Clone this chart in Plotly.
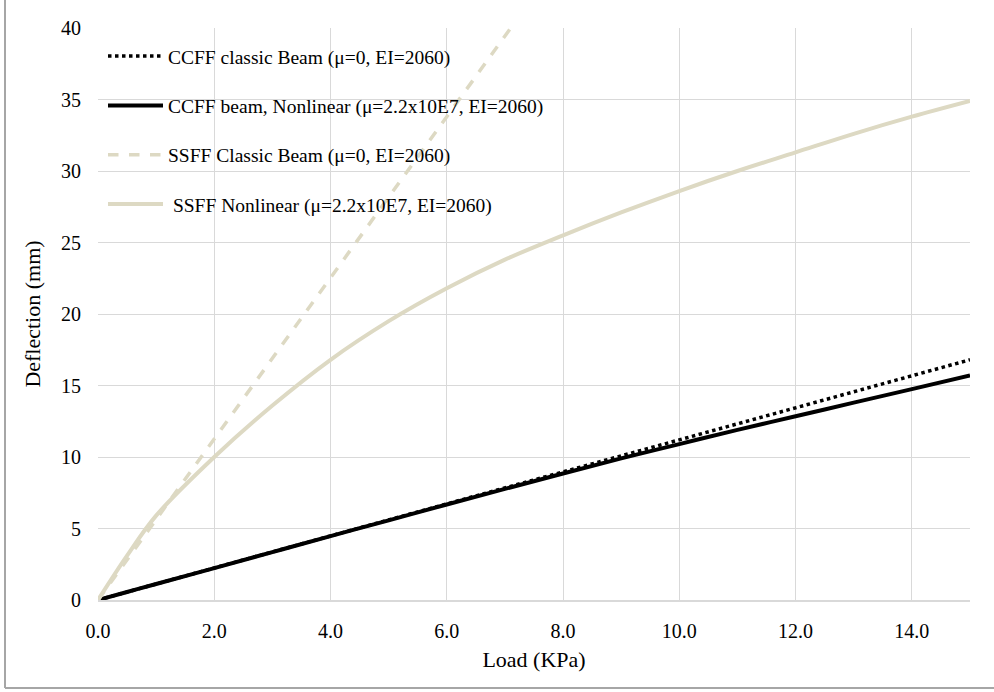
import plotly.graph_objects as go

# Data
load_classic = [0.0, 2.0, 4.0, 6.0, 8.0, 10.0, 12.0, 14.0, 15.0]
ccff_classic = [0.0, 2.24, 4.48, 6.72, 8.96, 11.2, 13.44, 15.68, 16.8]

load_nl = [0.0, 0.5, 1.0, 2.0, 3.0, 4.0, 5.0, 6.0, 7.0, 8.0, 9.0, 10.0, 11.0, 12.0, 13.0, 14.0, 15.0]
ccff_nl = [0.0, 0.56, 1.12, 2.23, 3.35, 4.47, 5.57, 6.68, 7.77, 8.85, 9.9, 10.9, 11.9, 12.85, 13.8, 14.75, 15.7]
ssff_nl = [0.0, 3.1, 5.9, 10.0, 13.6, 16.8, 19.5, 21.8, 23.8, 25.5, 27.1, 28.6, 30.0, 31.3, 32.6, 33.8, 34.9]

load_ss_classic = [0.0, 1.0, 2.0, 3.0, 4.0, 5.0, 6.0, 7.1]
ssff_classic = [0.0, 5.63, 11.26, 16.9, 22.5, 28.2, 33.8, 40.0]

names = [
    "CCFF classic Beam (μ=0, EI=2060)",
    "CCFF beam, Nonlinear (μ=2.2x10E7, EI=2060)",
    "SSFF Classic Beam (μ=0, EI=2060)",
    " SSFF Nonlinear (μ=2.2x10E7, EI=2060)",
]

x_ticks = [0, 2, 4, 6, 8, 10, 12, 14]
x_tick_labels = ["0.0", "2.0", "4.0", "6.0", "8.0", "10.0", "12.0", "14.0"]
y_ticks = [0, 5, 10, 15, 20, 25, 30, 35, 40]

black = "#000000"
tan = "#ddd9c3"
font = "Liberation Serif"

fig = go.Figure()
fig.add_trace(go.Scatter(x=load_classic, y=ccff_classic, mode="lines", name=names[0],
                         line=dict(color=black, width=3.5, dash="dot"), legendgroup="a"))
fig.add_trace(go.Scatter(x=load_nl, y=ccff_nl, mode="lines", name=names[1],
                         line=dict(color=black, width=4, shape="spline"), legendgroup="b"))
fig.add_trace(go.Scatter(x=load_ss_classic, y=ssff_classic, mode="lines", name=names[2],
                         line=dict(color=tan, width=3.5, dash="dash"), legendgroup="c"))
fig.add_trace(go.Scatter(x=load_nl, y=ssff_nl, mode="lines", name=names[3],
                         line=dict(color=tan, width=4, shape="spline"), legendgroup="d"))

fig.update_layout(
    width=994, height=692,
    margin=dict(l=98, r=24, t=28, b=92),
    paper_bgcolor="white", plot_bgcolor="white",
    font=dict(family=font, size=20, color="black"),
    showlegend=True,
    legend=dict(x=5 / 872, y=0.9845, xanchor="left", yanchor="top",
                bgcolor="rgba(0,0,0,0)", font=dict(size=19.5, family=font),
                traceorder="grouped", tracegroupgap=21, itemwidth=55,
                borderwidth=0),
    xaxis=dict(range=[0, 15], tickvals=x_ticks, ticktext=x_tick_labels,
               showgrid=True, gridcolor="#d9d9d9", gridwidth=1,
               showline=True, linecolor="#d9d9d9", linewidth=1.5,
               zeroline=False, ticks="", tickfont=dict(size=20),
               ticklabelstandoff=12, automargin=False,
               title=dict(text="Load (KPa)", font=dict(size=22), standoff=11)),
    yaxis=dict(range=[0, 40], tickvals=y_ticks,
               showgrid=True, gridcolor="#d9d9d9", gridwidth=1,
               showline=False, zeroline=False, ticks="", tickfont=dict(size=20),
               ticklabelstandoff=16, automargin=False,
               title=dict(text="Deflection (mm)", font=dict(size=22), standoff=14)),
)

# Outer chart frame (left and bottom edges visible in the reference)
fig.add_shape(type="line", xref="paper", yref="paper",
              x0=-93 / 872, x1=-93 / 872, y0=-88 / 572, y1=1.1,
              line=dict(color="#a6a6a6", width=2))
fig.add_shape(type="line", xref="paper", yref="paper",
              x0=-93 / 872, x1=1.05, y0=-88 / 572, y1=-88 / 572,
              line=dict(color="#a6a6a6", width=2))

fig.write_html("out.html", config={"displayModeBar": False},
               post_script="document.body.style.margin='0';")
